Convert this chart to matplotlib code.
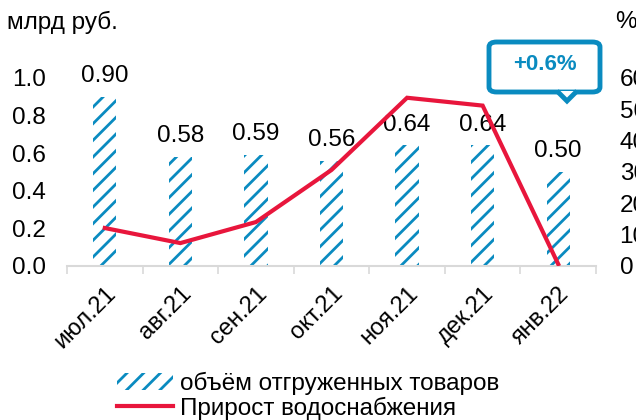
import numpy as np
import matplotlib.pyplot as plt
from matplotlib.patches import FancyBboxPatch, Polygon, Patch
from matplotlib.lines import Line2D

plt.rcParams['font.family'] = ['Liberation Sans', 'DejaVu Sans']
plt.rcParams['hatch.linewidth'] = 2.0

months = ["июл.21", "авг.21", "сен.21", "окт.21", "ноя.21", "дек.21", "янв.22"]
shipped = [0.90, 0.58, 0.59, 0.56, 0.64, 0.64, 0.50]   # млрд руб.
water_growth = [12.1, 7.3, 14.0, 30.6, 53.6, 51.1, 0.6]  # %

BLUE = "#0a8bc0"
RED = "#e8163c"
FS = 17.5

fig = plt.figure(figsize=(6.36, 4.2), dpi=100)
ax = fig.add_axes([67 / 636, 154 / 420, 529 / 636, 226 / 420])
x = np.arange(len(months))

ax.bar(x, shipped, width=0.31, color="white", edgecolor=BLUE, hatch="//", linewidth=0)
for xi, v in zip(x, shipped):
    ax.annotate(f"{v:.2f}", (xi, v), xytext=(0, 7), textcoords="offset points",
                ha="center", va="bottom", fontsize=FS)

ax.set_xlim(-0.5, len(months) - 0.5)
ax.set_ylim(0, 1.2)
ax.set_yticks(np.arange(0, 1.01, 0.2))
ax.set_yticklabels([f"{t:.1f}" for t in np.arange(0, 1.01, 0.2)], fontsize=FS)
ax.tick_params(axis="y", length=0, pad=15)

# category boundaries as major ticks, labels on minor ticks
ax.set_xticks(np.arange(-0.5, len(months), 1.0))
ax.set_xticklabels([])
ax.tick_params(axis="x", which="major", length=6, width=1.2, color="#d9d9d9")
ax.set_xticks(x, minor=True)
ax.set_xticklabels(months, minor=True, rotation=45, ha="right", rotation_mode="anchor", fontsize=17)
ax.tick_params(axis="x", which="minor", length=0, pad=12)

for s in ["top", "right", "left"]:
    ax.spines[s].set_visible(False)
ax.spines["bottom"].set_color("#d9d9d9")
ax.spines["bottom"].set_linewidth(1.5)

ax2 = ax.twinx()
ax2.plot(x, water_growth, color=RED, lw=3, solid_joinstyle="miter")
ax2.set_ylim(0, 72)
ax2.set_yticks(np.arange(0, 61, 10))
ax2.set_yticklabels([str(t) for t in range(0, 61, 10)], fontsize=FS)
ax2.tick_params(axis="y", length=0, pad=17)
for s in ax2.spines.values():
    s.set_visible(False)

fig.text(7 / 636, 1 - 22 / 420, "млрд руб.", fontsize=FS, ha="left", va="center")
fig.text(615 / 636, 1 - 22 / 420, "%", fontsize=FS, ha="left", va="center")

# callout
bx0, by0, bx1, by1 = 489, 42, 600, 92
box = FancyBboxPatch((bx0 / 636, 1 - by1 / 420), (bx1 - bx0) / 636, (by1 - by0) / 420,
                     boxstyle="round,pad=0,rounding_size=0.012", transform=fig.transFigure,
                     fc="white", ec=BLUE, lw=3.5)
fig.patches.append(box)
tri = Polygon([(557 / 636, 1 - 91 / 420), (567 / 636, 1 - 101 / 420), (577 / 636, 1 - 91 / 420)],
              closed=False, transform=fig.transFigure, fc="white", ec=BLUE, lw=3.5, joinstyle="miter")
fig.patches.append(tri)
fig.text(545 / 636, 1 - 64 / 420, "+0.6%", fontsize=16, fontweight="bold", color=BLUE,
         ha="center", va="center")

handles = [Patch(facecolor="white", edgecolor=BLUE, hatch="//", linewidth=0),
           Line2D([0], [0], color=RED, lw=3)]
fig.legend(handles, ["объём отгруженных товаров", "Прирост водоснабжения"],
           loc="center", bbox_to_anchor=(308 / 636, 1 - 396 / 420), frameon=False,
           fontsize=FS, handlelength=2.3, handletextpad=0.3, labelspacing=0.05, borderpad=0)

fig.savefig("out.png", dpi=100)
